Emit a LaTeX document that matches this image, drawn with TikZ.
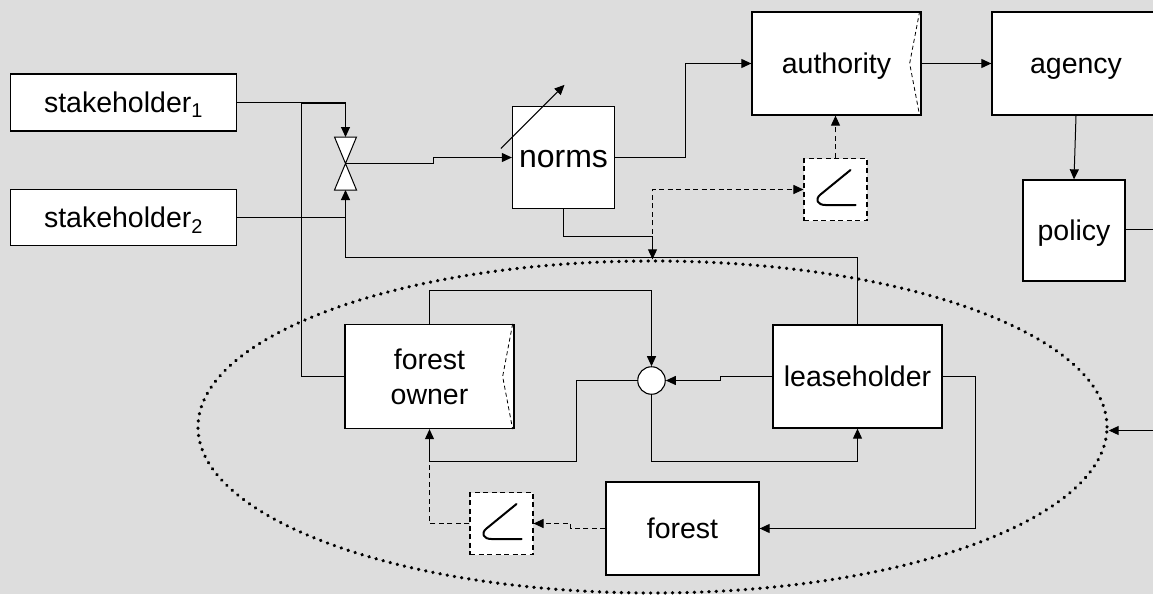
\documentclass[tikz,border=0pt]{standalone}
\usepackage{fontspec}
\setmainfont{Liberation Sans}
\usetikzlibrary{arrows.meta,shapes.geometric}
\definecolor{canvas}{RGB}{221,221,221}

\begin{document}
\begin{tikzpicture}[->,>={Triangle[length=10pt,width=9pt]},x=1pt,y=-1pt,line width=1pt,
    frame/.style={draw,fill=white,inner sep=0pt,line width=1.3pt,font=\fontsize{28.5}{35}\selectfont},
    box/.style={frame,text height=20.5pt,text depth=0pt},
    gaugebox/.style={draw,fill=white,dash pattern=on 5pt off 3.5pt,inner sep=0pt,line width=1.1pt,minimum width=63,minimum height=62},
    flag/.style={draw,-,line width=0.8pt,dash pattern=on 4pt off 3pt},
    sig/.style={dash pattern=on 5pt off 3.5pt}]

\fill [canvas] (0,0) rectangle (1153,594);
\useasboundingbox (0,0) rectangle (1153,594);
\clip (0,0) rectangle (1153,594);

% system boundary
\node [draw,ellipse,line width=3.4pt,dash pattern=on 0.3pt off 7pt,line cap=round,minimum width=909,minimum height=332,inner sep=0pt] (org) at (652.5,427) {};

\node [box,minimum width=226,minimum height=57] (s1) at (123.5,102.5) {stakeholder\textsubscript{1}};
\node [box,minimum width=226,minimum height=56] (s2) at (123.5,217.5) {stakeholder\textsubscript{2}};
\node [minimum width=21,minimum height=52,inner sep=0pt] (valve) at (345.5,163.5) {};
\node [box,minimum width=102,minimum height=102,font=\fontsize{32}{38}\selectfont] (norms) at (563.5,157.5) {norms};
\node [box,minimum width=169,minimum height=103] (auth) at (836.5,63.5) {authority};
\node [box,minimum width=168,minimum height=103] (agency) at (1076,63.5) {agency};
\node [box,minimum width=102,minimum height=101] (policy) at (1074,230.5) {policy};
\node [gaugebox] (gauge1) at (835.5,189.5) {};
\node [frame,minimum width=169,minimum height=104,align=center] (owner) at (429.5,376.5) {forest\\owner};
\node [box,minimum width=169,minimum height=103] (lease) at (857.5,376.5) {leaseholder};
\node [box,minimum width=153,minimum height=93] (forest) at (682.5,528.5) {forest};
\node [gaugebox] (gauge2) at (501.5,523.5) {};
\node [draw,circle,fill=white,minimum size=27.5,inner sep=0pt,line width=1.1pt] (sum) at (651.5,380.5) {};

\coordinate (bus) at (0,257.5);
\coordinate (lowbus) at (0,461.5);
\coordinate (polout) at (1160,229.5);
\coordinate (ctrlin) at (1160,430.5);

\path [draw,-,fill=white,line width=1pt]
    (valve.north west) -- (valve.north east) -- (valve.center) -- cycle
    (valve.south west) -- (valve.south east) -- (valve.center) -- cycle
;

\draw [flag] ([shift={(-2,0)}]auth.north east) -- ([shift={(-12,0)}]auth.east) -- ([shift={(-2,0)}]auth.south east);
\draw [flag] ([shift={(-2,0)}]owner.north east) -- ([shift={(-12,0)}]owner.east) -- ([shift={(-2,0)}]owner.south east);

\foreach \g in {gauge1,gauge2}
    \draw [-,line width=2pt,line cap=round,line join=round,shift={(\g.center)}]
        (15,-19.5) -- (-15,5) .. controls (-21,10) and (-18,15.5) .. (-10,15.5) -- (20,15.5);

\draw (s1.east) -| (valve.north);
\draw [-] (owner.west) -- ++(-43,0) |- ([shift={(0,1)}]s1.east -| valve.north);
\draw [-] (s2.east) -- (s2.east -| valve.south);
\draw (lease.north) |- (bus -| valve.south) -- (valve.south);
\draw (valve.center) -| (433.5,157.5) -- (norms.west);
\draw ([shift={(-11,-9)}]norms.west) -- ([shift={(1,-21)}]norms.north);

\draw (norms.east) -- ++(70,0) |- (auth.west);
\draw (auth.east) -- (agency.west);
\draw (agency.south) -- (policy.north);
\draw [-] (policy.east |- polout) -- (polout);
\draw (ctrlin) -- (ctrlin -| org.east);

\draw (norms.south) -- ++(0,27.5) -| (org.north);
\draw [sig] (org.north) |- (gauge1.west);
\draw [sig] (gauge1.north) -- (gauge1.north |- auth.south);

\draw (owner.north) -- ++(0,-33) -| (sum.north);
\draw (sum.west) -| (576.5,461.5) -| (owner.south);
\draw (lease.west) -| (720.5,380.5) -- (sum.east);
\draw (sum.south) -- ++(0,67) -| (lease.south);
\draw (lease.east) -- ++(33,0) |- (forest.east);
\draw [sig] (forest.west) -| (570.5,523.5) -- (gauge2.east);
\draw [sig,-] (gauge2.west) -| (lowbus -| owner.south);

\end{tikzpicture}
\end{document}
